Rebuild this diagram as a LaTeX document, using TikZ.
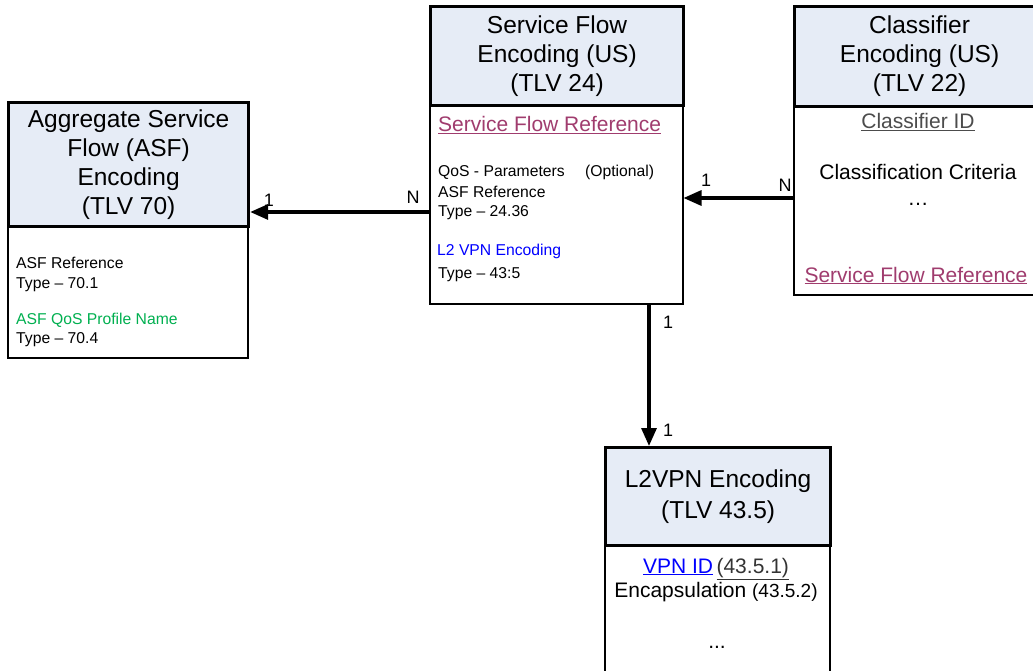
\documentclass[tikz,border=0pt]{standalone}
\usepackage{fontspec}
\setmainfont{Liberation Sans}
\usetikzlibrary{arrows.meta}
\definecolor{hdrfill}{RGB}{230,236,246}
\definecolor{sfref}{RGB}{160,60,110}
\definecolor{asfgreen}{RGB}{0,176,80}
\definecolor{vpnblue}{RGB}{0,0,255}
\begin{document}
\begin{tikzpicture}[x=1pt,y=-1pt,
  hdr/.style={draw, fill=hdrfill, line width=3.2pt, anchor=north west, inner sep=0pt, align=center,
    font=\fontsize{24.5}{29}\selectfont},
  bodybox/.style={draw, fill=white, line width=1.5pt, anchor=north west, inner sep=0pt},
  small/.style={anchor=base west, inner sep=0pt, font=\fontsize{15.7}{19}\selectfont},
  mid/.style={anchor=base, inner sep=0pt, font=\fontsize{21}{25}\selectfont},
  lbl/.style={inner sep=0pt, font=\fontsize{18}{21}\selectfont},
  arr/.style={line width=3.2pt, -{Triangle[length=18pt,width=15pt]}}]
\clip (0,0) rectangle (1033,671);
\fill[white] (0,0) rectangle (1033,671);

% ASF box
\node[bodybox, minimum width=240, minimum height=132] (asfbody) at (7,225) {};
\node[hdr, minimum width=240, minimum height=124] (asfhead) at (7,101)
  {Aggregate Service\\Flow (ASF)\\Encoding\\(TLV 70)};
\node[small] (asf1) at (16,268) {ASF Reference};
\node[small] (asf2) at (16,288) {Type – 70.1};
\node[small, text=asfgreen] (asf3) at (16,324) {ASF QoS Profile Name};
\node[small] (asf4) at (16,343) {Type – 70.4};

% Service flow box
\node[bodybox, minimum width=253, minimum height=199] (sfbody) at (429,104) {};
\node[hdr, minimum width=253, minimum height=99] (sfhead) at (429,5)
  {Service Flow\\Encoding (US)\\(TLV 24)};
\node[anchor=base west, inner sep=0pt, font=\fontsize{21}{25}\selectfont, text=sfref] (sfref) at (438,132)
  {\underline{Service Flow Reference}};
\node[small] (sf1) at (438,177) {QoS - Parameters};
\node[small] (sf2) at (585,177) {(Optional)};
\node[small] (sf3) at (438,198) {ASF Reference};
\node[small] (sf4) at (438,216) {Type – 24.36};
\node[small, text=vpnblue] (sf5) at (437,255) {L2 VPN Encoding};
\node[small] (sf6) at (438,278) {Type – 43:5};

% Classifier box
\node[bodybox, minimum width=250, minimum height=189] (clbody) at (793,105) {};
\node[hdr, minimum width=250, minimum height=100] (clhead) at (793,5)
  {Classifier\\Encoding (US)\\(TLV 22)};
\node[mid, text=black!70] (cl1) at (918,129) {\underline{Classifier ID}};
\node[mid] (cl2) at (918,180) {Classification Criteria};
\node[mid] (cl3) at (918,206) {…};
\node[mid, text=sfref] (cl4) at (916,282) {\underline{Service Flow Reference}};

% L2VPN box
\node[bodybox, minimum width=225, minimum height=160] (l2body) at (604,544) {};
\node[hdr, minimum width=225, minimum height=98, font=\fontsize{24.5}{31}\selectfont] (l2head) at (604,446)
  {L2VPN Encoding\\(TLV 43.5)};
\node[anchor=base, inner sep=0pt] (l21) at (716,573)
  {\fontsize{21}{25}\selectfont\textcolor{vpnblue}{\underline{VPN ID}}\,\textcolor{black!80}{\underline{(43.5.1)}}};
\node[anchor=base, inner sep=0pt] (l22) at (716,597)
  {\fontsize{21}{25}\selectfont Encapsulation \fontsize{19}{23}\selectfont(43.5.2)};
\node[mid] (l23) at (717,648) {...};

% connectors
\draw[arr] (sfbody.west |- 0,212) -- (asfhead.east |- 0,212);
\draw[arr] (clbody.west |- 0,198) -- (sfbody.east |- 0,198);
\draw[arr] (sfbody.south -| 649,0) -- (l2head.north -| 649,0);

% multiplicity labels
\node[lbl] (m1) at (269,200) {1};
\node[lbl] (m2) at (413,197) {N};
\node[lbl] (m3) at (706,180) {1};
\node[lbl] (m4) at (785,185) {N};
\node[lbl] (m5) at (668,322) {1};
\node[lbl] (m6) at (668,430) {1};
\end{tikzpicture}
\end{document}
